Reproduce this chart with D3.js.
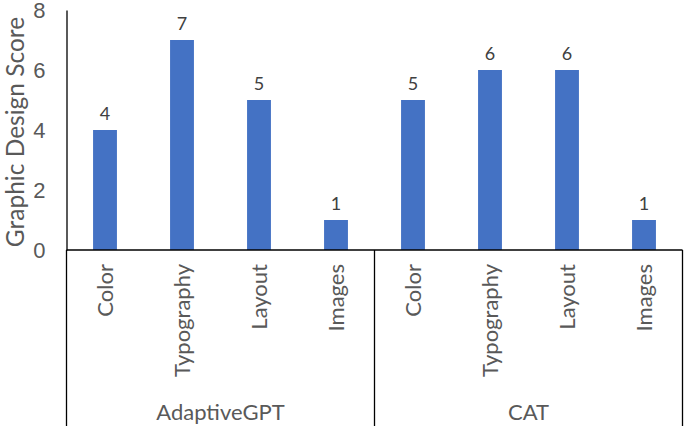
<!DOCTYPE html>
<html>
<head>
<meta charset="utf-8">
<script src="https://cdn.jsdelivr.net/npm/d3@7"></script>
<style>
  body { margin: 0; background: #fff; }
  svg { display: block; font-family: Lato, "Liberation Sans", sans-serif; }
</style>
</head>
<body>
<div id="chart"></div>
<script>
// data
const groups = ["AdaptiveGPT", "CAT"];
const categories = ["Color", "Typography", "Layout", "Images"];
const adaptiveScores = [4, 7, 5, 1];
const catScores = [5, 6, 6, 1];
const yTicks = [0, 2, 4, 6, 8];

const seriesByGroup = { AdaptiveGPT: adaptiveScores, CAT: catScores };
const rows = [];
groups.forEach((g) => {
  categories.forEach((c, i) => rows.push({ group: g, cat: c, value: seriesByGroup[g][i] }));
});

const width = 685;
const height = 428;
const margin = { top: 10, right: 2.5, bottom: 178, left: 66.5 };
const innerW = width - margin.left - margin.right;
const innerH = height - margin.top - margin.bottom;

const svg = d3.select("#chart")
  .append("svg")
  .attr("width", width)
  .attr("height", height);

const chart = svg.append("g")
  .attr("transform", `translate(${margin.left}, ${margin.top})`);

// scales
const xGroup = d3.scaleBand().domain(groups).range([0, innerW]).padding(0);
const xCat = d3.scaleBand().domain(categories).range([0, xGroup.bandwidth()]).paddingInner(0.69).paddingOuter(0.345);
const yScale = d3.scaleLinear().domain([0, 8]).range([innerH, 0]);

// y axis
const yAxis = chart.append("g")
  .call(d3.axisLeft(yScale).tickValues(yTicks).tickSize(0).tickPadding(21));
yAxis.select(".domain").attr("stroke", "#000").attr("stroke-width", 1.3);
yAxis.selectAll(".tick text")
  .style("font-size", "22px")
  .attr("fill", "#595959");

// y axis title
svg.append("text")
  .attr("transform", `translate(24, 132) rotate(-90)`)
  .attr("text-anchor", "middle")
  .style("font-size", "24.5px")
  .attr("fill", "#595959")
  .text("Graphic Design Score");

// bars
chart.selectAll(".bar")
  .data(rows)
  .enter()
  .append("rect")
  .attr("class", "bar")
  .attr("x", (d) => xGroup(d.group) + xCat(d.cat))
  .attr("y", (d) => yScale(d.value))
  .attr("width", xCat.bandwidth())
  .attr("height", (d) => innerH - yScale(d.value))
  .attr("fill", "#4472C4");

// value labels
chart.selectAll(".val")
  .data(rows)
  .enter()
  .append("text")
  .attr("class", "val")
  .attr("x", (d) => xGroup(d.group) + xCat(d.cat) + xCat.bandwidth() / 2)
  .attr("y", (d) => yScale(d.value) - 10)
  .attr("text-anchor", "middle")
  .style("font-size", "18px")
  .attr("fill", "#404040")
  .text((d) => d.value);

// baseline and group boxes
const boxBottom = height - margin.top - 2;
chart.append("line")
  .attr("x1", 0).attr("x2", innerW)
  .attr("y1", innerH).attr("y2", innerH)
  .attr("stroke", "#000").attr("stroke-width", 1.3);

const dividers = [0, ...groups.map((g) => xGroup(g) + xGroup.bandwidth())];
chart.selectAll(".divider")
  .data(dividers)
  .enter()
  .append("line")
  .attr("x1", (d) => d).attr("x2", (d) => d)
  .attr("y1", innerH).attr("y2", boxBottom)
  .attr("stroke", "#000").attr("stroke-width", 1.3);

// category labels
chart.selectAll(".cat")
  .data(rows)
  .enter()
  .append("text")
  .attr("class", "cat")
  .attr("transform", (d) => {
    const cx = xGroup(d.group) + xCat(d.cat) + xCat.bandwidth() / 2;
    return `translate(${cx + 8}, ${innerH + 14}) rotate(-90)`;
  })
  .attr("text-anchor", "end")
  .style("font-size", "22px")
  .attr("fill", "#595959")
  .text((d) => d.cat);

// group labels
chart.selectAll(".grp")
  .data(groups)
  .enter()
  .append("text")
  .attr("class", "grp")
  .attr("x", (d) => xGroup(d) + xGroup.bandwidth() / 2)
  .attr("y", innerH + 170)
  .attr("text-anchor", "middle")
  .style("font-size", "22px")
  .attr("fill", "#595959")
  .text((d) => d);
</script>
</body>
</html>
